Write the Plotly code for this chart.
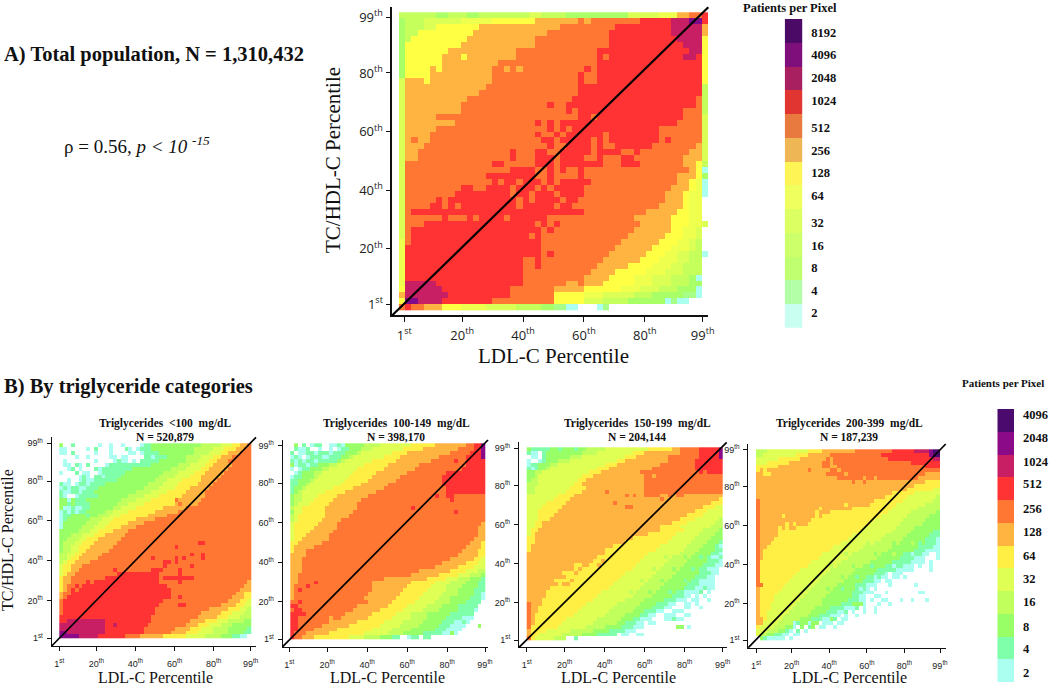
import re
import numpy as np
import plotly.graph_objects as go

W, H = 1050, 688
LEVELS = "abcdefghijklm"  # a=2 patients per pixel, b=4, ... m=8192; "." = no patients

TICK_VALS = [1, 20, 40, 60, 80, 99]
TICK_TEXT = ["1<sup>st</sup>", "20<sup>th</sup>", "40<sup>th</sup>", "60<sup>th</sup>", "80<sup>th</sup>", "99<sup>th</sup>"]

total_rows = [
"d6 c2 d3 c2 d8 e2 d4 c10 e5 f3 h2 i2 j1",
"c1 d3 e6 f5 g7 h7 i1 h1 i8 j5 k3 l2 j1",
"c1 d3 e2 g7 h13 i9 j9 k5 h1",
"c1 d2 g9 h12 i10 j10 k5 h1",
"c1 d1 g9 h11 i12 j11 k4 g1",
"c1 g9 h12 i12 j12 k3 g1",
"c1 g7 h11 i13 j15 k2 g1",
"c1 g6 h3 g1 h8 i13 j1 i1 j12 k2 j1 g1",
"c1 g6 h9 i16 j17 g1",
"c1 g4 h1 g1 h8 i2 h1 i1 h1 i10 j1 i1 j17 g1",
"c1 g4 h10 i14 j1 i2 j17 g1",
"e1 h3 g1 h10 i14 j1 i2 j17 g1",
"e1 h13 i15 j3 j17 d1",
"e1 h12 i16 j20 d1",
"e1 h10 i17 j20 i1 d1",
"e1 h9 i14 j1 i2 j1 j20 i1 d1",
"e1 h9 i17 j1 i1 j17 i3 d1",
"e1 h5 i23 j2 i1 j14 i3 e1",
"e1 h8 i13 j1 i1 j1 i1 j19 i4 e1",
"e1 h5 i18 j1 i1 j1 i1 j14 i7 e1",
"e1 h4 i17 j1 i2 j1 i1 j6 i1 j8 i7 e1",
"e1 h1 i1 h2 i18 j2 i1 j5 i1 j1 i1 j8 i1 j1 i5 e1",
"e1 h3 i20 j1 i2 j4 i1 j1 i2 j6 i7 h1 e1",
"e1 h2 i15 j1 i3 j2 i2 j5 i1 j4 i2 j1 i8 h2 e1",
"e1 h2 i15 j1 i3 j3 i1 j4 i2 j1 i3 j2 i8 h3 e1",
"e1 i14 j2 i5 j3 i1 j7 i3 j3 i7 h2 g1 d1",
"e1 i17 j4 i2 j1 i1 j1 i2 j1 i17 h1 g1 a1",
"e1 i13 j8 i2 j1 i4 j1 i15 h3 g1 c1",
"e1 i14 j1 i1 j2 i1 j3 i1 j1 i1 j5 i14 h2 g1 f1 a1",
"e1 i9 j2 i2 j4 i1 j3 i1 j1 i1 j5 i14 h3 g1 f1 a1",
"e1 i8 j9 i1 j2 i1 j3 i1 j4 i13 h3 g1 f2 a1",
"e1 i5 j1 i1 j11 i1 j1 i1 j4 i1 j2 i14 h3 g1 f2 .1",
"e1 i4 j2 i1 j1 i1 j9 i1 j5 i1 j2 i14 h4 g1 f2 .1",
"e1 i1 j28 i10 h5 g2 f2 .1",
"e1 i6 j1 i3 j1 i1 j4 i1 j6 i14 h6 g3 f2 .1",
"e1 i3 j18 i1 j1 i1 j1 i13 h5 g3 f2 e1 .1",
"e1 i1 j21 i1 j1 i13 h6 g2 f2 e1 .1",
"e1 i1 j19 i1 j1 i14 h6 g3 f2 e1 .1",
"f1 i1 j21 i13 h6 g3 f2 e1 d1 .1",
"f1 j22 i12 h6 g3 f3 e1 d1 .1",
"f1 j22 i1 j1 i9 h6 g3 f2 e2 d2 a1",
"f1 j19 i2 j1 i10 h6 g3 f3 e2 d2 .1",
"f1 j19 i2 j1 i9 h5 g4 f3 e2 d3 .1",
"f1 j19 i11 h4 g5 f3 e3 d3 .1",
"f1 j19 i10 h4 g4 f3 e3 d3 c1 a1 .1",
"f1 k5 j14 i7 h2 i1 h3 g5 f3 e3 d3 c2 .1",
"g1 k6 j11 i7 h5 g6 f3 e3 d3 c3 a1 .1",
"h1 k7 j10 i7 g5 f3 e5 d3 c5 b2 a1 .1",
"g1 l2 k4 j8 i10 g5 e3 d4 c6 a1 b1 a2 .3",
"i1 j1 i2 h3 g3 f4 e5 d4 c2 b2 a2 .3 a1 b1 .16",
]

tg_lt100_rows = [
"c1 .2 b1 .6 a1 .2 a1 .2 a1 .4 a1 b2 c13 d5 e3 f2 g2 h1",
"a2 .5 a1 .1 b1 .3 a1 .3 b1 a1 .1 a1 b3 c11 d5 e3 f3 g2 h2",
"a2 .1 b1 .5 a1 .3 a1 .4 a2 .1 a1 b4 c9 d4 e3 f2 g3 h3",
".4 a1 .2 a1 .5 a2 .1 a2 .4 b2 a1 b3 c5 d4 e3 f2 g3 h5",
".1 a1 .7 a1 .4 a1 b1 a2 .1 a1 .1 b5 c7 d3 e3 f2 g3 h6",
".1 a2 .1 b1 a1 .1 b1 .4 a1 b3 b8 c7 d3 e4 f2 g5 h5",
".2 a1 b1 .1 a1 .3 b1 a1 b8 c10 d4 e4 f2 g5 h6",
"a1 .3 b1 .1 a2 .2 a1 b6 c10 d4 e4 f3 g5 h7",
".5 a1 b1 a1 .1 b2 a1 b4 c10 d4 e4 f3 g5 h8",
".2 a1 .2 a1 b1 a2 b6 c10 d3 e4 f5 g4 h9",
"b1 a2 .1 a1 b2 a1 b4 c11 d4 e4 f5 g4 h10",
"a1 b1 a1 b2 a2 b3 c12 d4 e4 f4 g5 h11",
"b1 a2 b2 a1 b3 c11 d4 e4 f5 g5 h12",
"b1 a1 .2 a1 b3 b2 c8 d4 e4 f6 g6 h12",
"c2 a1 c1 b3 c9 d4 e4 f6 h1 g6 h13",
"c2 b1 c1 b4 c7 d3 e4 f8 g1 h1 g4 h14",
"c1 a2 b1 a2 b2 c6 d2 e4 f7 g6 h17",
"a1 b1 a1 b1 a1 b2 c5 d2 e4 f7 g6 h19",
"a1 b2 c4 b1 c2 d3 e3 f7 g5 h22",
"a1 b1 c6 d3 e3 f6 g5 h25",
"a1 c6 d3 e3 f5 g4 h28",
"a1 c5 d3 e3 f4 g4 h30",
"c5 d3 e2 f4 g4 h32",
"c3 d3 e3 f3 g5 h33",
"c2 d3 e2 f3 g6 h34",
"c1 d3 e2 f3 g6 h21 i2 h12",
"c1 d2 e2 f3 g6 h16 i1 h19",
"c1 d2 e2 f2 g6 h37",
"d2 e2 f2 g5 h23 i1 h2 i1 h12",
"d2 e1 f2 g5 h14 i1 h5 i1 h1 i1 h4 i1 h12",
"d1 e1 f2 g4 h19 i2 h1 i1 h19",
"e1 f2 g3 h21 i1 h6 i1 h15",
"e1 f2 g2 h9 i1 h9 i3 h4 i1 h18",
"e1 f1 g2 h11 i11 h5 i1 h18",
"f1 g2 h9 i14 h1 i8 h15",
"f1 g2 h4 i1 h1 i17 h5 i1 h17 g1",
"f1 g1 h2 i1 h1 i22 h20 g2",
"f1 g1 h1 i1 h1 i24 h18 g3",
"g1 h2 i26 h17 g2 f2",
"g1 h1 i27 h2 i1 h13 g3 f2",
"h1 i26 h17 g3 f2 e1",
"h1 i25 h5 i2 h9 g4 f2 e2",
"h1 i24 h14 g5 f3 e2 d1",
"h1 i24 h12 g5 f3 e3 d2",
"i24 h12 g5 f3 e3 d3",
"i2 j10 i12 h10 g4 f3 e3 d4 c2",
"j12 i2 j1 i8 h10 g3 f3 e3 d3 c5",
"j12 i10 h8 g4 f3 e3 d4 c5 b1",
"k2 j10 i10 h7 g4 f3 e4 d4 c4 b2",
"k5 j5 i7 h4 g6 f6 e5 d4 c3 b2 a2 .1",
]

tg_100_149_rows = [
".1 c1 .1 b1 .1 a1 b2 .2 a2 b1 a1 c5 d4 e8 f6 g8 h2 i2 k1",
".1 b1 a2 b1 .2 a1 .2 a1 .1 a1 b2 c3 d3 e8 f5 g9 h4 i2 k1",
"b1 .1 a2 b2 a1 b3 a1 b3 c3 d1 e8 f4 g11 h5 i3 k1",
"a1 b1 a1 .1 a1 b3 a2 b3 c2 d1 e8 f4 g10 h7 i4 k1",
"b1 a1 b1 a1 b2 a1 b3 b2 c1 d1 e7 f6 g9 h6 i1 h2 i5",
"c1 a1 b2 a1 b2 c3 d2 e7 f6 g8 h12 i5",
"a1 .1 a1 b2 c3 d2 e7 f7 g8 h12 i6",
".1 a1 b1 c3 d2 e8 f6 g8 h10 i10",
"a1 b2 c3 d1 e8 f6 g7 h11 i11",
"b2 c3 d1 e8 f6 g7 h12 i11",
"b2 c2 d1 e8 f5 g7 h14 i11",
"b1 c2 d1 e7 f5 g8 h16 i10",
"b1 c1 d1 e6 f5 g8 h18 i10",
"c1 d2 e4 f5 g8 h17 i1 h2 i2 h8",
"c1 d2 e3 f5 g7 h23 i1 h8",
"c1 d1 e3 f5 g7 h33",
"d1 e2 f6 g8 h14 i1 h18",
"c1 e2 f6 g7 h26 i1 h7",
"d1 e1 f7 g6 h35",
"d1 e1 f6 g5 h37",
"e1 f6 g5 h37 g1",
"e1 f5 g6 h36 g2",
"e1 f4 g6 h37 g2",
"e1 f3 g6 h38 g2",
"e1 f2 g7 h37 g3",
"f2 g6 h38 g3 f1",
"f1 g5 h39 g4 f1",
"f1 g3 h40 g4 f2",
"g4 h39 g5 f2",
"g3 h38 g6 f2 e1",
"g3 h36 g6 f3 e2",
"g3 h34 g6 f4 e3",
"g3 h30 g8 f4 e3 d2",
"g2 h29 g7 f5 e3 d3 c1",
"g2 h22 g11 f5 e3 d3 c3 b1",
"g2 h4 i1 h14 g10 f6 e4 d4 c3 b2",
"g1 h3 i1 h16 g9 f6 e4 d4 c4 b2",
"g1 h1 i1 h18 g8 f6 e5 d3 c4 b3",
"g1 h19 g8 f6 e5 d4 c4 b2 a1",
"g1 h18 g8 f6 e5 d3 c5 b3 a1",
"h2 i1 h17 g6 f6 e5 d4 c4 b4 .1",
"i2 h15 g8 f5 e5 d4 c4 b5 .2",
"h1 i2 h13 g7 f6 e5 d4 c5 b4 a1 .2",
"i4 h10 g7 f6 e4 d4 c6 b6 .3",
"i2 h8 g1 h2 g7 f6 e5 d4 c5 b4 a3 .3",
"i2 h8 g7 f7 e5 d5 c5 b3 a2 b1 a1 .4",
"i2 h6 g7 f8 e5 d5 c5 b3 a4 .3 c1 .1",
"i2 h4 g6 f9 e5 d5 c6 b3 a4 .6",
"i1 h3 g6 f9 e6 d4 c5 b5 a2 c1 a1 .7",
"i1 h2 g3 f9 e4 d4 c3 b2 .2 a1 b2 .1 b2 .14",
]

tg_150_199_rows = [
"c1 b5 c2 b1 c3 b1 c2 d5 e11 f6 g2 h5 i5 k1",
"b1 a2 .1 b1 c9 d4 e9 f3 g9 h5 i5 k1",
".1 a2 .1 b1 c6 d3 e11 f3 g8 h8 i5 k1",
"a1 .2 a1 b1 c3 d3 e12 f2 g11 h7 i7",
"a1 b2 c3 d2 e12 f3 g11 h9 i7",
"b1 a1 b1 c2 d1 e12 f3 g11 h11 i7",
"c2 d2 e12 f3 g10 h15 i1 h1 i4",
"c2 d1 e11 f3 g13 h2 g1 h17",
"c1 d2 e10 f2 g15 h20",
"d3 e9 f2 g16 h20",
"d2 e9 f4 g15 h20",
"d2 e8 f4 g6 h1 g9 h20",
"e8 f4 g13 h1 g1 h1 g2 h4 g2 h1 g1 h2 g10",
"e7 f4 g23 h1 g14 f1",
"e5 f5 g12 h1 g24 f3",
"e4 f5 g16 h2 g18 f3 e2",
"e3 f5 g35 f3 e4",
"e3 f4 g34 f4 e5",
"e3 f3 g33 f4 e6 d1",
"e2 f2 g33 f4 e7 d2",
"e2 f2 g30 f5 e8 d3",
"e1 f2 g31 f6 e5 d4 c1",
"e1 f1 g29 f7 e6 d4 c2",
"f2 g25 f10 e6 d4 c3",
"f2 g23 f11 e6 d4 c3 b1",
"f1 g21 f12 e7 d4 c3 b1 a1",
"f1 g19 f13 e7 d4 c4 b2",
"g20 f11 e8 d4 c4 b2 a1",
"g18 f12 e5 d1 e1 d3 c1 d1 c2 b1 c1 b1 a1 a1 b1",
"g17 f2 g1 f9 e7 d5 c5 b3 a1",
"g12 f2 g2 f2 g1 f9 e7 d5 c5 b3 a2",
"g12 f1 g1 f13 e5 d1 e1 d3 c1 d1 c3 b1 c1 b2 a1 a2 .1",
"g9 f3 g1 f12 e8 d5 c6 b3 a2 .1",
"g10 f14 e8 d5 c6 b3 a2 .2",
"g7 f4 g1 f11 e6 d1 e1 d3 c1 d1 c4 b1 c1 b2 a1 a3 .2",
"g8 f1 g2 f11 e8 d5 c6 b3 a4 .2",
"g6 f15 e8 d5 c6 b3 a2 b1 a2 .2",
"g5 f14 e7 d1 e1 d3 c1 d1 c3 b1 c1 b2 a1 a3 b1 .1 a1 .3",
"g5 f13 e9 d5 c5 b3 a2 .1 a1 .1 a1 .4",
"g4 f13 e8 d5 c5 b3 a3 .1 a2 .2 a1 .3",
"h1 g3 f11 e8 d6 c4 b3 a2 .2 a2 .1 a1 .6",
"h1 g2 f11 e8 d6 c4 b3 a2 .3 a2 .2 a1 .5",
"h1 g2 f10 e8 d6 c3 b3 a2 .2 a3 .10",
"h1 g1 f10 e8 d5 c4 b2 a2 .2 a3 .2 a2 .8",
"h1 g1 f8 e8 d6 c3 b2 a3 .3 a2 b1 a2 .10",
"h1 g1 f7 e8 d6 c2 b3 a2 .1 a2 .17",
"h1 f7 e7 d5 c4 b3 a3 .8 c2 .1 a1 .8",
"g1 f4 e6 d6 c4 b4 a3 .22",
"g1 f2 e6 d5 c4 b5 .1 a2 .2 a2 .20",
"h1 f1 e5 d3 .2 b1 .37",
]

tg_200_399_rows = [
"d3 e11 f4 g9 h10 i6 j4 k1 l2",
"d2 e9 f3 g6 h14 i13 k1 l2",
"e6 f6 g7 h1 g1 h15 i12 j2",
"e3 f6 g9 h2 g1 h21 i8",
"f6 g12 h2 g2 h24 i4",
"f1 g1 f1 g11 h1 g5 h2 g1 h27",
"g2 f2 g15 h5 g1 h21 g4",
"g22 h7 g1 h2 g1 h11 g6",
"g26 h1 g2 h1 g16 f4",
"g43 f7",
"g41 f7 e2",
"g37 f6 e7",
"g35 f6 e8 d1",
"h1 g31 f8 e8 d2",
"h1 g23 f1 g6 f7 e8 d4",
"h1 g16 f1 g8 f11 e7 d6",
"h1 g15 f1 g3 f16 e6 d7 c1",
"h1 g6 f1 g8 f1 g1 f16 e7 d6 c3",
"h1 g14 f17 e8 d6 c4",
"h1 g7 f1 g1 f1 g3 f17 e8 d6 c5",
"h1 g5 f1 g1 f1 g2 f18 e9 d5 c7",
"h1 g5 f22 e9 d5 c6 b2",
"h1 g5 f20 e9 d6 c6 b3",
"h1 g4 f20 e9 d6 c6 b3 a1",
"h1 g3 f19 e7 d1 e1 d5 c1 d1 c3 d1 c1 b1 c1 b3 a1",
"h1 g2 f18 e8 d8 c7 b4 a2",
"h1 g1 f18 e8 d8 c7 b3 a4",
"h1 g1 f16 e6 d1 e1 d6 c1 d1 c3 d1 c2 b2 a1 b2 a2 .2 a1",
"h1 g1 f15 e8 d8 c6 b4 a3 .3 a1",
"h1 f14 e8 d8 c6 b5 a4 .1 a1 .2",
"h1 f13 e6 d1 e1 d4 c1 d2 c2 b1 c3 b2 a1 b2 a3 .1 a1 .2 a1 .2",
"h1 f11 e8 d7 c6 b5 a5 .4 a1 .2",
"h1 f10 e8 d7 c6 b3 a1 .1 a3 .10",
"h1 f9 e6 d1 e1 d5 c1 d1 c2 b1 c2 b2 a1 b1 a2 .1 a2 .1 a1 .9",
"h1 f8 e8 d7 c5 b3 a2 .1 a2 .13",
"h2 f6 e8 d6 c5 b3 a3 .3 a1 .6 a1 .6",
"g1 f6 e6 d1 e1 d4 c1 d1 c2 b1 c3 b1 a1 b1 a1 .1 a1 .17",
"g1 f5 e8 d6 c6 b3 a3 .3 a1 .8 a2 .4",
"g1 f4 e8 d6 c7 b2 a2 .2 a2 .16",
"g1 f4 e7 d6 c7 b3 a2 .1 a1 .2 a2 .3 a1 .2 a1 .3 a1 .3",
"g1 f3 e7 d7 c5 b3 c3 a1 .3 a1 .2 a1 .13",
"g1 f3 e6 d6 c4 b4 a3 b1 .1 a1 .2 a1 .17",
"g1 f2 e6 d6 c4 b3 a2 b1 .1 a1 .2 a1 .2 a1 .17",
"g1 f2 e5 d6 c3 b3 a3 .1 a1 .2 a1 .22",
"g2 f1 e4 d5 c3 b3 a2 c1 b1 .1 a2 .25",
"g2 e4 d4 a1 b1 c2 a1 c2 .1 a3 .1 a2 .26",
"f1 e4 d3 c2 a1 .1 c1 .1 b1 c1 .1 a2 .2 a1 .28",
"e3 d3 c2 b1 a1 .1 b1 .1 a1 .36",
"e2 d1 c2 b2 a2 .1 a2 .38",
".1 c1 b1 a5 .1 a1 .40",
]

total_colors = ["#aaffee", "#a8ff88", "#a8ff66", "#c4ff5c", "#dcff55", "#eeff4d", "#ffff44",
                "#ffb340", "#ff7733", "#ff3333", "#c81e64", "#800a8a", "#4a0a6e"]
tg_colors = ["#aafff0", "#80ffaa", "#99ff66", "#c0ff5c", "#e0ff55", "#ffee44", "#ffb340",
             "#ff7733", "#ff3333", "#c81e64", "#8a0a88", "#4a0a6e"]
total_bar_colors = ["#c8fff0", "#b2ffa8", "#bfff70", "#ccff6a", "#dcff62", "#eeff5e", "#fff455",
                    "#eeb655", "#e87a40", "#e03530", "#a82060", "#7f0f7a", "#4a0a66"]
total_bar_labels = [2, 4, 8, 16, 32, 64, 128, 256, 512, 1024, 2048, 4096, 8192]
tg_bar_labels = [2, 4, 8, 16, 32, 64, 128, 256, 512, 1024, 2048, 4096]
total_label_shift = [.12, .05, .02, -.06, -.09, .05, .02, -.05, -.08, .06, .03, -.02, -.06]
tg_label_shift = [-.09, -.04, -.07, .03, .04, .05, .1, .11, .21, .17, .23, .24]


def decode(rows):
    out = []
    for row in rows:
        cells = []
        for ch, n in re.findall(r"([a-m.])(\d+)", row):
            v = np.nan if ch == "." else 2.0 ** (LEVELS.index(ch) + 1)
            cells += [v] * int(n)
        cells = (cells + [np.nan] * 50)[:50]
        out.append(cells)
    return np.array(out[::-1])


def scale(colors):
    n = len(colors)
    s = []
    for i, c in enumerate(colors):
        s += [[i / n, c], [(i + 1) / n, c]]
    return s


fig = go.Figure()
annotations, shapes = [], []


def text(x, y, s, size, family="Liberation Serif", color="#111", anchor="center", angle=0):
    annotations.append(dict(xref="paper", yref="paper", x=x / W, y=1 - y / H, text=s, showarrow=False,
                            font=dict(size=size, family=family, color=color), xanchor=anchor,
                            yanchor="middle", textangle=angle))


def panel(idx, rows, colors, box, heat, xt, yt, tick_size, tick_font, width, ticklen, x_standoff, y_standoff):
    ox, oy, rx, ty = box
    sx = (xt[1] - xt[0]) / 98
    sy = (yt[0] - yt[1]) / 98
    px = lambda v: 1 + (v - xt[0]) / sx
    py = lambda v: 1 + (yt[0] - v) / sy
    hl, hr, ht, hb = heat
    dx = (px(hr) - px(hl)) / 50
    dy = (py(ht) - py(hb)) / 50
    sfx = "" if idx == 1 else str(idx)
    # log2 of patients per pixel on a stepped colour scale
    fig.add_trace(go.Heatmap(z=np.log2(decode(rows)), x0=px(hl) + dx / 2, dx=dx, y0=py(hb) + dy / 2, dy=dy,
                             xaxis="x" + sfx, yaxis="y" + sfx, colorscale=scale(colors), zmin=0.5,
                             zmax=len(colors) + 0.5, showscale=False, hoverongaps=False))
    common = dict(showgrid=False, zeroline=False, showline=True, linecolor="#111", linewidth=width,
                  ticks="outside", ticklen=ticklen, tickwidth=1, tickcolor="#111", automargin=False,
                  tickvals=TICK_VALS, ticktext=TICK_TEXT,
                  tickfont=dict(size=tick_size, family=tick_font, color="#222"))
    fig.layout["xaxis" + sfx] = dict(domain=[ox / W, rx / W], range=[px(ox), px(rx)], anchor="y" + sfx,
                                     ticklabelstandoff=x_standoff, **common)
    fig.layout["yaxis" + sfx] = dict(domain=[1 - oy / H, 1 - ty / H], range=[py(oy), py(ty)], anchor="x" + sfx,
                                     ticklabelstandoff=y_standoff, **common)
    xr = "x" + sfx + " domain"
    yr = "y" + sfx + " domain"
    shapes.append(dict(type="line", xref=xr, yref=yr, x0=0, y0=0, x1=1, y1=1, layer="above",
                       line=dict(color="black", width=width + 0.6)))


def legend_bar(idx, labels, colors, shift, box):
    l, r, t, b = box
    sfx = str(idx)
    n = len(labels)
    fig.add_trace(go.Heatmap(z=[[np.log2(v)] for v in labels], y=list(range(n)), x=[0],
                             xaxis="x" + sfx, yaxis="y" + sfx, colorscale=scale(colors), zmin=0.5,
                             zmax=n + 0.5, showscale=False, hoverinfo="skip"))
    fig.layout["xaxis" + sfx] = dict(domain=[l / W, r / W], range=[-0.5, 0.5], visible=False, anchor="y" + sfx,
                                     automargin=False)
    fig.layout["yaxis" + sfx] = dict(domain=[1 - b / H, 1 - t / H], range=[-0.5, n - 0.5], side="right",
                                     anchor="x" + sfx, showgrid=False, zeroline=False, showline=False, ticks="",
                                     tickvals=[i + s for i, s in zip(range(n), shift)], automargin=False,
                                     ticktext=[str(v) for v in labels], ticklabelstandoff=8,
                                     tickfont=dict(size=12.5, family="Liberation Serif", color="#111", weight="bold"))


panel(1, total_rows, total_colors, (392.3, 315.3, 708.3, 7.3), (399, 707.7, 12.3, 310),
      (404.3, 702.7), (304.3, 17.3), 13, "Open Sans", 1.6, 5, 2, 0)
panel(2, tg_lt100_rows, tg_colors, (51.7, 646, 256, 437.3), (59.3, 251, 443.3, 638.3),
      (59.3, 250.7), (638.3, 443.3), 9, "Liberation Sans", 1.1, 4, 5, 2)
panel(3, tg_100_149_rows, tg_colors, (282.7, 646.7, 488, 440), (290.3, 485, 443.3, 639.3),
      (289.3, 485), (639.3, 445.7), 9, "Liberation Sans", 1.1, 4, 5, 2)
panel(4, tg_150_199_rows, tg_colors, (519, 647.3, 726.7, 442.3), (526.7, 722.7, 447.3, 640),
      (526.7, 722.7), (640, 448.3), 9, "Liberation Sans", 1.1, 4, 5, 2)
panel(5, tg_200_399_rows, tg_colors, (748.3, 647.7, 945.7, 444), (756, 940, 449.3, 640.7),
      (756, 940), (640.3, 449.7), 9, "Liberation Sans", 1.1, 4, 5, 2)
legend_bar(6, total_bar_labels, total_bar_colors, total_label_shift, (784.7, 802.3, 19, 327.7))
legend_bar(7, tg_bar_labels, tg_colors, tg_label_shift, (997.3, 1014, 409, 682.3))

text(2, 54, "<b>A) Total population, N = 1,310,432</b>", 20.5, anchor="left")
text(62, 145, "ρ = 0.56, <i>p &lt; 10 <sup>-15</sup></i>", 19, anchor="left")
text(2, 386, "<b>B) By triglyceride categories</b>", 20.5, anchor="left")
text(333, 160, "TC/HDL-C Percentile", 21, angle=-90)
text(553, 356, "LDL-C Percentile", 21)
text(790, 8, "<b>Patients per Pixel</b>", 12.5)
text(1003, 383, "<b>Patients per Pixel</b>", 11)
text(7, 540, "TC/HDL-C Percentile", 16, angle=-90)
for cx, cy, s, n in [(165, 423, "&lt;100", "520,879"), (396, 423, "100-149", "398,170"),
                     (637, 423, "150-199", "204,144"), (849, 423, "200-399", "187,239")]:
    text(cx, cy, f"<b>Triglycerides  {s}  mg/dL</b>", 11.5)
    text(cx, cy + 14, f"<b>N = {n}</b>", 11.5)
for cx in (155, 387, 618, 849):
    text(cx, 677, "LDL-C Percentile", 16)

fig.update_layout(width=W, height=H, autosize=False, margin=dict(l=0, r=0, t=0, b=0, pad=0), paper_bgcolor="white",
                  plot_bgcolor="white", showlegend=False, annotations=annotations, shapes=shapes)
fig.write_html("out.html", config=dict(displayModeBar=False, responsive=False),
               post_script="document.body.style.margin='0';document.documentElement.style.overflow='hidden';")
